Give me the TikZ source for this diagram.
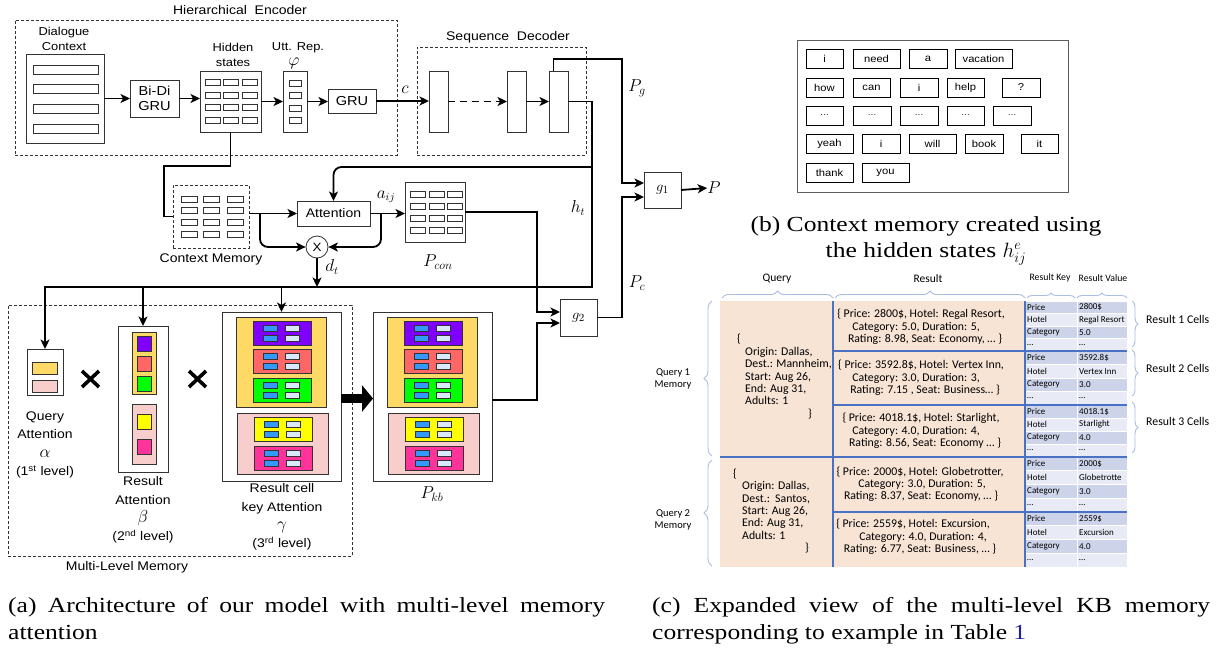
\documentclass[tikz,border=0pt]{standalone}
\usepackage{fontspec}
\setmainfont{Liberation Serif}[FakeStretch=1.19]
\newfontfamily\hv{Liberation Sans}[FakeStretch=1.12]
\newfontfamily\cb{Carlito}
\usetikzlibrary{arrows.meta,decorations.pathreplacing,calc}
\definecolor{dk}{HTML}{333333}
\definecolor{cY}{HTML}{FFD966}
\definecolor{cPk}{HTML}{F8CECC}
\definecolor{cV}{HTML}{7F00FF}
\definecolor{cR}{HTML}{FF6666}
\definecolor{cG}{HTML}{00FF00}
\definecolor{cYY}{HTML}{FFFF00}
\definecolor{cM}{HTML}{FF3399}
\definecolor{cB}{HTML}{3399FF}
\definecolor{cL}{HTML}{DAE8FC}
\definecolor{peach}{HTML}{F8E4D5}
\definecolor{tblue}{HTML}{4A72C4}
\definecolor{kD}{HTML}{CDD4EA}
\definecolor{kL}{HTML}{E8EBF5}
\definecolor{brc}{HTML}{A8BEE3}
\definecolor{refblue}{HTML}{1F1F9F}
\newcommand{\rbox}[7][]{\node[rbx,#1,minimum width={(#5)-(#3)},minimum height={(#6)-(#4)}] (#2) at ({((#3)+(#5))/2},{((#4)+(#6))/2}) {#7};}
\newcommand{\cstack}[2]{%
\rbox[cbox,fill=cY]{#2gy}{236+#1}{317}{326+#1}{407}{}
\rbox[cbox,fill=cPk]{#2gp}{237+#1}{413}{328+#1}{474}{}
\foreach \nm/\col/\xa/\ya in {a/cV/253/321,b/cR/253/349,c/cG/253/378,d/cYY/254/417,e/cM/254/446}{%
 \rbox[cbox,fill=\col]{#2\nm}{\xa+#1}{\ya}{\xa+#1+58}{\ya+24}{}
 \rbox[sbox,fill=cB]{#2\nm1}{\xa+#1+10}{\ya+4}{\xa+#1+24}{\ya+10}{}
 \rbox[sbox,fill=cB]{#2\nm2}{\xa+#1+10}{\ya+14}{\xa+#1+24}{\ya+20}{}
 \rbox[sbox,fill=cL]{#2\nm3}{\xa+#1+32}{\ya+4}{\xa+#1+46}{\ya+10}{}
 \rbox[sbox,fill=cL]{#2\nm4}{\xa+#1+32}{\ya+14}{\xa+#1+46}{\ya+20}{}
}}
\newcommand{\wdots}{{\fontsize{8}{8}\selectfont\ldots}}
\newcommand{\grk}[1]{{\fontsize{19}{18.3}\selectfont$#1$}}
\begin{document}
\begin{tikzpicture}[x=1pt,y=-1pt,
  rbx/.style={rectangle,inner sep=0pt,outer sep=0pt,align=center},
  bx/.style={draw=dk,line width=0.9pt,fill=white},
  cbox/.style={draw=dk,line width=0.9pt},
  sbox/.style={draw=dk,line width=0.8pt,fill=white},
  dbx/.style={draw=dk,line width=0.8pt,dash pattern=on 3pt off 2pt},
  conn/.style={line width=1.8pt,draw=black},
  arr/.style={conn,-{Stealth[length=9.5pt,width=9pt,inset=2.5pt]}},
  hl/.style={font=\hv\fontsize{12.5}{14}\selectfont,inner sep=0pt},
  lbl/.style={font=\hv\fontsize{11.5}{15}\selectfont,align=center,inner sep=0pt},
  mlbl/.style={font=\hv\fontsize{12.5}{18.3}\selectfont,align=center,inner sep=0pt},
  gf/.style={font=\hv\fontsize{13}{15}\selectfont},
  wb/.style={draw=black,line width=0.8pt,fill=white,font=\hv\fontsize{10}{12}\selectfont},
  mth/.style={inner sep=0pt,font=\fontsize{17}{17}\selectfont},
  captxt/.style={inner sep=0pt,font=\fontsize{21.5}{26}\selectfont},
  tx/.style={inner sep=0pt,font=\cb\fontsize{11.8}{12.5}\selectfont},
  hd/.style={inner sep=0pt,font=\cb\fontsize{11.5}{13}\selectfont},
  hds/.style={inner sep=0pt,font=\cb\fontsize{9.8}{11}\selectfont},
  kv/.style={inner sep=0pt,font=\cb\fontsize{9}{10}\selectfont},
  bl/.style={inner sep=0pt,font=\cb\fontsize{10.5}{12}\selectfont,align=center},
  rl/.style={inner sep=0pt,font=\cb\fontsize{11.8}{13}\selectfont},
  tline/.style={draw=tblue,line width=1.6pt},
  brace/.style={decorate,decoration={brace,amplitude=7pt},draw=brc,line width=0.9pt}
]
\fill[white] (0,0) rectangle (1231,653);
\useasboundingbox (0,0) rectangle (1231,653);

% ---------------- Hierarchical encoder
\rbox[dbx]{henc}{15}{20}{397}{155}{}
\node[hl] (henc-l) at (240,10) {Hierarchical\ \ Encoder};
\node[lbl] (dc-l) at (64,39) {Dialogue\\Context};
\rbox[bx]{dc}{26}{54}{104}{143}{}
\foreach \i/\y in {1/65,2/84,3/104,4/124} {\rbox[sbox]{dcb\i}{33}{\y}{98}{\y+9}{}}
\rbox[bx,gf]{bidi}{130}{80}{179}{117}{Bi-Di\\GRU}
\node[lbl] (hid-l) at (233,55) {Hidden\\states};
\rbox[bx]{hid}{200}{71}{261}{132}{}
\foreach \c/\x in {1/205,2/223,3/242} {\foreach \r/\y in {1/79,2/92,3/104,4/117} {\rbox[sbox]{hs\c\r}{\x}{\y}{\x+15}{\y+6}{}}}
\node[lbl] (utt-l) at (298,48) {Utt. Rep.};
\node[mth,font=\fontsize{18}{18}\selectfont] (phi-l) at (294,63) {$\varphi$};
\rbox[bx]{utt}{283}{71}{307}{132}{}
\foreach \r/\y in {1/80,2/92,3/105,4/117} {\rbox[sbox]{ur\r}{289}{\y}{301}{\y+6}{}}
\rbox[bx,gf]{gru}{328}{89}{376}{113}{GRU}

% ---------------- Sequence decoder
\rbox[dbx]{sdec}{417}{47}{586}{155}{}
\node[hl] (sdec-l) at (508,37) {Sequence\ \ Decoder};
\rbox[bx]{dec1}{429}{71}{448}{132}{}
\rbox[bx]{dec2}{507}{71}{526}{132}{}
\rbox[bx]{dec3}{549}{71}{568}{132}{}

\draw[arr] (dc.east) -- (bidi.west);
\draw[arr] (bidi.east) -- (bidi.east -| hid.west);
\draw[arr] (hid.east) -- (utt.west);
\draw[arr] (utt.east) -- (utt.east -| gru.west);
\draw[arr] (gru.east) -- (gru.east -| dec1.west);
\draw[arr,dash pattern=on 7pt off 5pt] (dec1.east) -- (dec2.west);
\draw[arr] (dec2.east) -- (dec3.west);
\node[mth,font=\fontsize{16}{16}\selectfont] (c-l) at (405,90) {$c$};

% ---------------- context memory & attention
\rbox[dbx]{cm}{173}{185}{249}{248}{}
\foreach \c/\x in {1/181,2/203,3/227} {\foreach \r/\y in {1/196,2/207,3/219,4/231} {\rbox[sbox]{cm\c\r}{\x}{\y}{\x+16}{\y+6}{}}}
\node[mlbl] (cm-l) at (211,259) {Context Memory};
\rbox[bx,mlbl]{att}{297}{201}{370}{226}{Attention}
\node[circle,draw=dk,line width=0.8pt,minimum size=22pt,inner sep=0pt,font=\hv\fontsize{12}{12}\selectfont] (ox) at (317,247) {X};
\rbox[bx]{pcon}{405}{182}{465}{242}{}
\foreach \c/\x in {1/410,2/429,3/447} {\foreach \r/\y in {1/191,2/203,3/215,4/227} {\rbox[sbox]{pc\c\r}{\x}{\y}{\x+15}{\y+6}{}}}
\node[mth] (pcon-l) at (438,262) {$P_{con}$};
\node[mth,font=\fontsize{16}{16}\selectfont] (aij-l) at (386,197) {$a_{ij}$};
\node[mth,font=\fontsize{16}{16}\selectfont] (dt-l) at (332,267) {$d_t$};

\coordinate (hb) at (592,287);
\coordinate (hc) at (592,167);
\draw[conn] (hid.south) |- (164,166) |- (cm.west);
\draw[arr] (cm.east |- att.west) -- (att.west);
\draw[arr,rounded corners=8pt] (260,213.5) |- (ox.west);
\draw[arr] (att.east) -- (att.east -| pcon.west);
\draw[arr,rounded corners=8pt] (381,213.5) |- (ox.east);
\draw[arr] (ox.south) -- (ox.south |- hb);

% ---------------- gates
\rbox[bx,mth,font=\fontsize{15}{15}\selectfont]{g2}{560}{299}{597}{336}{$g_2$}
\rbox[bx,mth,font=\fontsize{15}{15}\selectfont]{g1}{644}{172}{681}{208}{$g_1$}
\node[mth,font=\fontsize{18}{18}\selectfont] (P) at (714,188) {$P$};

% ---------------- multi-level memory
\rbox[dbx]{mlm}{8}{305}{352}{556}{}
\node[mlbl] (mlm-l) at (127,567) {Multi-Level Memory};
\rbox[bx]{qa}{27}{349}{63}{395}{}
\rbox[cbox,fill=cY]{qa1}{32}{362}{57}{374}{}
\rbox[cbox,fill=cPk]{qa2}{32}{380}{57}{392}{}
\node[mlbl] (qa-l) at (45,445) {Query\\Attention\\\grk{\alpha}\\(1\textsuperscript{st} level)};
\draw[line width=3.6pt] (82,371) -- (99,387) (82,387) -- (99,371);
\rbox[bx]{ra}{118}{326}{168}{472}{}
\rbox[cbox,fill=cY]{rag1}{132}{332}{156}{394}{}
\rbox[cbox,fill=cPk]{rag2}{132}{404}{156}{464}{}
\rbox[cbox,fill=cV]{ra1}{137}{336}{151}{351}{}
\rbox[cbox,fill=cR]{ra2}{137}{356}{151}{371}{}
\rbox[cbox,fill=cG]{ra3}{137}{376}{151}{391}{}
\rbox[cbox,fill=cYY]{ra4}{137}{414}{151}{429}{}
\rbox[cbox,fill=cM]{ra5}{137}{439}{151}{454}{}
\node[mlbl] (ra-l) at (143,510) {Result\\Attention\\\grk{\beta}\\(2\textsuperscript{nd} level)};
\draw[line width=3.6pt] (189,371) -- (206,387) (189,387) -- (206,371);
\rbox[bx]{rc}{222}{312}{341}{481}{}
\cstack{0}{rcs}
\node[mlbl] (rc-l) at (282,517) {Result cell\\key Attention\\\grk{\gamma}\\(3\textsuperscript{rd} level)};
\rbox[bx]{pkb}{373}{312}{492}{481}{}
\cstack{151}{pks}
\node[mth] (pkb-l) at (432,494) {$P_{kb}$};
\draw[line width=9pt,-{Triangle[length=11pt,width=26pt]}] ([yshift=-2pt]rc.east) -- ([yshift=-2pt]pkb.west);

% ---------------- connectors to gates and memory
\draw[arr] (g1.east) -- (P.west);
\draw[arr] ([xshift=-5pt]dec3.north) |- (622,59) |- ([yshift=7pt]g1.west);
\node[mth] (pg-l) at (637,88) {$P_g$};
\draw[arr] (dec3.east) -| (hb) -| (qa.north);
\draw[arr,rounded corners=8pt] (hc) -| (att.north);
\node[mth,font=\fontsize{16}{16}\selectfont] (ht-l) at (578,208) {$h_t$};
\draw[arr] (pcon.east) -| ([xshift=-23pt,yshift=5.5pt]g2.west) -- ([yshift=5.5pt]g2.west);
\draw[arr] ([yshift=-3.5pt]pkb.east) -| ([xshift=-23pt,yshift=-5.5pt]g2.west) -- ([yshift=-5.5pt]g2.west);
\draw[arr] (g2.east) -| ([xshift=-22pt,yshift=-7pt]g1.west) -- ([yshift=-7pt]g1.west);
\node[mth] (pc-l) at (637,283) {$P_c$};
\draw[arr] (ra.north |- hb) -- (ra.north);
\draw[arr] (rc.north |- hb) -- (rc.north);

% ---------------- (b) context memory
\rbox[draw=dk!80,line width=1pt]{cmb}{797}{40}{1068}{192}{}
\foreach \n/\a/\b/\ya/\t in {w11/806/843/49/i,w12/853/900/49/need,w13/909/947/49/a,w14/955/1012/49/vacation,
 w21/806/843/78/how,w22/853/890/78/can,w23/900/938/78/i,w24/947/984/78/help,w25/1002/1040/78/?,
 w31/806/843/106/\wdots,w32/853/891/106/\wdots,w33/900/938/106/\wdots,w34/947/984/106/\wdots,w35/993/1031/106/\wdots,
 w41/806/853/134/yeah,w42/862/900/134/i,w43/909/956/134/will,w44/965/1003/134/book,w45/1021/1058/134/it,
 w51/806/853/163/thank,w52/862/909/163/you}
 {\rbox[wb]{\n}{\a}{\ya}{\b}{\ya+19}{\t}}
\node[captxt,anchor=base] (capb1) at (926,231) {(b) Context memory created using};
\node[captxt,anchor=base] (capb2) at (926,257) {the hidden states $h^{e}_{ij}$};

% ---------------- (c) KB memory table
\node[hd] (h-q) at (777,279) {Query};
\node[hd] (h-r) at (928,279) {Result};
\node[hds] (h-k) at (1050,278) {Result Key};
\node[hds] (h-v) at (1103,278) {Result Value};
\draw[brace] (722,298) -- (833,298);
\draw[brace] (835,298) -- (1025,298);
\draw[brace,decoration={amplitude=5pt}] (1027,298) -- (1075,298);
\draw[brace,decoration={amplitude=5pt}] (1077,298) -- (1127,298);
\rbox[fill=peach]{q1}{720}{301}{833}{457}{}
\rbox[fill=peach]{q2}{720}{457}{833}{567}{}
\rbox[fill=peach]{r1}{833}{301}{1025}{351}{}
\rbox[fill=peach]{r2}{833}{351}{1025}{405}{}
\rbox[fill=peach]{r3}{833}{405}{1025}{457}{}
\rbox[fill=peach]{r4}{833}{457}{1025}{512}{}
\rbox[fill=peach]{r5}{833}{512}{1025}{567}{}
\foreach \b/\ya/\yb/\pr/\ho/\ca in {1/301/351/2800\$/Regal Resort/5.0,2/351/405/3592.8\$/Vertex Inn/3.0,3/405/457/4018.1\$/Starlight/4.0,4/457/512/2000\$/Globetrotte/3.0,5/512/567/2559\$/Excursion/4.0}{
  \pgfmathsetmacro\hh{(\yb-\ya)/4}
  \foreach \k/\kt/\vt/\fc in {0/Price/\pr/kD,1/Hotel/\ho/kL,2/Category/\ca/kD,3/…/…/kL}{
    \pgfmathsetmacro\yy{\ya+\k*\hh}
    \rbox[fill=\fc,draw=white,line width=0.8pt]{k\b\k}{1025}{\yy}{1077}{\yy+\hh}{}
    \rbox[fill=\fc,draw=white,line width=0.8pt]{v\b\k}{1077}{\yy}{1127}{\yy+\hh}{}
    \node[kv,anchor=west] (kt\b\k) at (1027,\yy+\hh/2) {\kt};
    \node[kv,anchor=west] (vt\b\k) at (1079,\yy+\hh/2) {\vt};
  }}
\draw[tline] (833,301) -- (833,567) (1025,301) -- (1025,567);
\draw[tline] (833,351) -- (1127,351) (833,405) -- (1127,405) (720,457) -- (1127,457) (833,512) -- (1127,512);

\node[tx,anchor=base west] (q1a) at (737,342) {\{};
\node[tx,anchor=base west] (q1b) at (745,355) {Origin: Dallas,};
\node[tx,anchor=base west] (q1c) at (745,367) {Dest.: Mannheim,};
\node[tx,anchor=base west] (q1d) at (745,380) {Start: Aug 26,};
\node[tx,anchor=base west] (q1e) at (745,392) {End: Aug 31,};
\node[tx,anchor=base west] (q1f) at (745,404) {Adults: 1};
\node[tx,anchor=base west] (q1g) at (808,417) {\}};
\node[tx,anchor=base west] (q2a) at (733,477) {\{};
\node[tx,anchor=base west] (q2b) at (742,489) {Origin: Dallas,};
\node[tx,anchor=base west] (q2c) at (742,502) {Dest.:\ \ Santos,};
\node[tx,anchor=base west] (q2d) at (742,514) {Start: Aug 26,};
\node[tx,anchor=base west] (q2e) at (742,526) {End: Aug 31,};
\node[tx,anchor=base west] (q2f) at (742,539) {Adults: 1};
\node[tx,anchor=base west] (q2g) at (805,551) {\}};

\node[tx,anchor=base] (r1a) at (921,317) {\{ Price: 2800\$, Hotel: Regal Resort,};
\node[tx,anchor=base] (r1b) at (916,330) {Category: 5.0, Duration: 5,};
\node[tx,anchor=base] (r1c) at (925,342) {Rating: 8.98, Seat: Economy, … \}};
\node[tx,anchor=base] (r2a) at (921,368) {\{ Price: 3592.8\$, Hotel: Vertex Inn,};
\node[tx,anchor=base] (r2b) at (916,381) {Category: 3.0, Duration: 3,};
\node[tx,anchor=base] (r2c) at (925,393) {Rating: 7.15 , Seat: Business… \}};
\node[tx,anchor=base] (r3a) at (921,421) {\{ Price: 4018.1\$, Hotel: Starlight,};
\node[tx,anchor=base] (r3b) at (916,434) {Category: 4.0, Duration: 4,};
\node[tx,anchor=base] (r3c) at (925,446) {Rating: 8.56, Seat: Economy … \}};
\node[tx,anchor=base] (r4a) at (920,475) {\{ Price: 2000\$, Hotel: Globetrotter,};
\node[tx,anchor=base] (r4b) at (922,487) {Category: 3.0, Duration: 5,};
\node[tx,anchor=base] (r4c) at (921,499) {Rating: 8.37, Seat: Economy, … \}};
\node[tx,anchor=base] (r5a) at (913,527) {\{ Price: 2559\$, Hotel: Excursion,};
\node[tx,anchor=base] (r5b) at (923,540) {Category: 4.0, Duration: 4,};
\node[tx,anchor=base] (r5c) at (920,552) {Rating: 6.77, Seat: Business, … \}};

\draw[brace,decoration={amplitude=8pt}] (712,456) -- (712,301);
\draw[brace,decoration={amplitude=8pt}] (712,566) -- (712,460);
\node[bl] (qm1) at (673,379) {Query 1\\Memory};
\node[bl] (qm2) at (673,520) {Query 2\\Memory};
\draw[brace,decoration={amplitude=6pt}] (1132,301) -- (1132,347);
\draw[brace,decoration={amplitude=6pt}] (1132,350) -- (1132,396);
\draw[brace,decoration={amplitude=6pt}] (1132,402) -- (1132,453);
\node[rl,anchor=west] (rc1) at (1146,319) {Result 1 Cells};
\node[rl,anchor=west] (rc2) at (1146,368) {Result 2 Cells};
\node[rl,anchor=west] (rc3) at (1146,421) {Result 3 Cells};

% ---------------- captions
\node[captxt,anchor=base west] (capa1) at (8,612) {\makebox[597pt][s]{(a) Architecture of our model with multi-level memory}};
\node[captxt,anchor=base west] (capa2) at (8,639) {attention};
\node[captxt,anchor=base west] (capc1) at (652,612) {\makebox[558pt][s]{(c) Expanded view of the multi-level KB memory}};
\node[captxt,anchor=base west] (capc2) at (652,639) {corresponding to example in Table \textcolor{refblue}{1}};
\end{tikzpicture}
\end{document}
